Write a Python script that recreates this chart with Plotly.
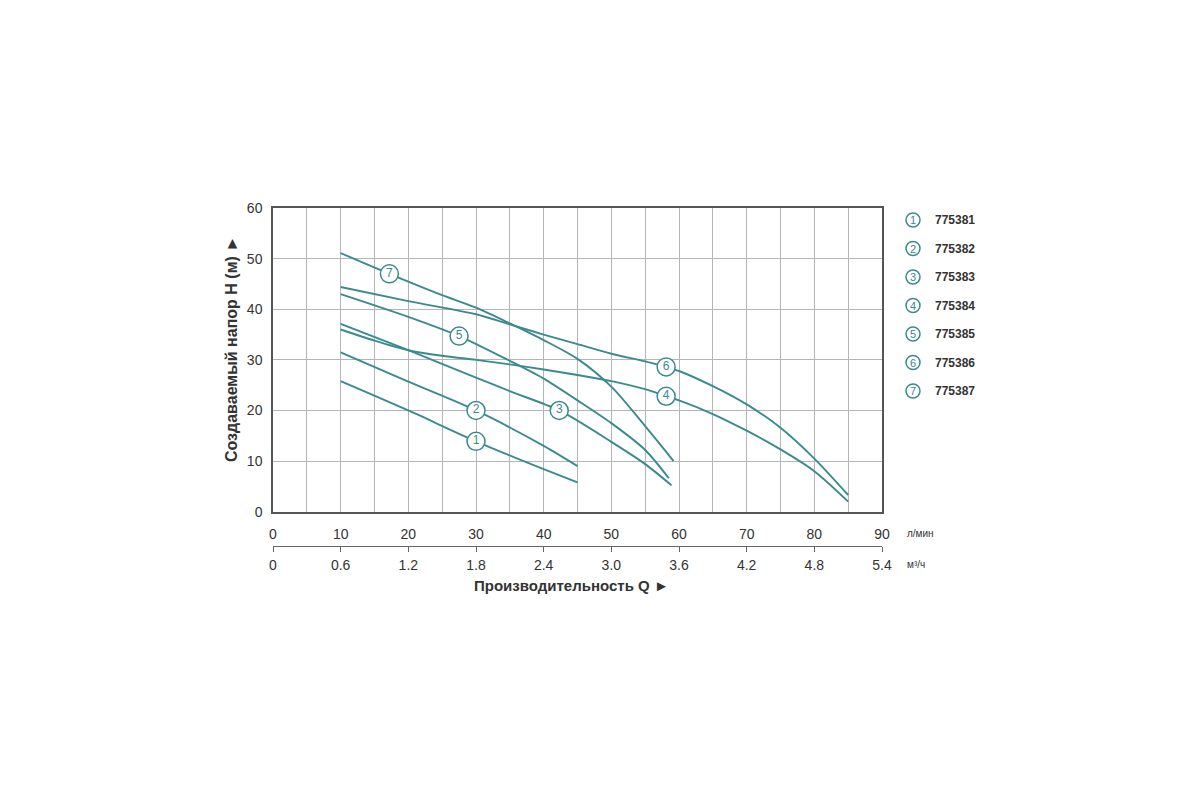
import plotly.graph_objs as go

# Модели насосов
models = ["775381", "775382", "775383", "775384", "775385", "775386", "775387"]

# Напорные характеристики: Q (л/мин) -> H (м)
q_1 = [10, 20, 30, 40, 45]
h_1 = [25.8, 20.0, 13.9, 8.4, 5.8]
q_2 = [10, 20, 30, 40, 45]
h_2 = [31.5, 25.7, 20.0, 13.0, 9.0]
q_3 = [10, 20, 30, 35, 42.3, 50, 55, 58.9]
h_3 = [37.1, 31.9, 26.5, 23.8, 20.0, 13.8, 9.4, 5.2]
q_4 = [10, 15, 20, 25, 30, 35, 40, 45, 50, 55, 58.1, 60, 65, 70, 75, 80, 85]
h_4 = [36.0, 33.8, 31.9, 30.8, 30.0, 29.1, 28.1, 27.0, 25.8, 24.2, 22.8, 22.0, 19.3, 16.0, 12.3, 8.0, 2.0]
q_5 = [10, 20, 27.5, 35, 40, 45, 50, 55, 58.5]
h_5 = [43.0, 38.5, 34.7, 29.8, 26.3, 22.0, 17.5, 12.2, 6.6]
q_6 = [10, 20, 30, 35, 40, 45, 50, 55, 58.1, 60, 65, 70, 75, 80, 85]
h_6 = [44.4, 41.6, 39.0, 37.0, 35.0, 33.1, 31.2, 29.7, 28.6, 27.8, 24.8, 21.2, 16.6, 10.5, 3.3]
q_7 = [10, 17.2, 24.6, 30, 35, 40, 45, 50, 55, 59.2]
h_7 = [51.1, 47.0, 43.0, 40.3, 37.2, 33.9, 30.2, 24.7, 16.9, 10.0]

# Где на кривых стоят кружки с номерами
label_q = [30, 30, 42.3, 58.1, 27.5, 58.1, 17.2]
label_h = [13.9, 20.0, 20.0, 22.8, 34.7, 28.6, 47.0]

# Оси
q_lmin_ticks = [0, 10, 20, 30, 40, 50, 60, 70, 80, 90]
q_m3h_ticks = [0, 0.6, 1.2, 1.8, 2.4, 3.0, 3.6, 4.2, 4.8, 5.4]
q_m3h_text = ["0", "0.6", "1.2", "1.8", "2.4", "3.0", "3.6", "4.2", "4.8", "5.4"]
h_ticks = [0, 10, 20, 30, 40, 50, 60]

TEAL = "#3b8a8f"
TEXT = "#333333"
GRID = "#b5b5b5"
FONT = "Liberation Sans, Arial, sans-serif"
NARROW = "Liberation Sans Narrow, Liberation Sans, Arial, sans-serif"

# пиксели экрана -> координаты paper (поле графика 273..882 по x, paper 208..600 по y)
def px(x):
    return (x - 273) / 609.0

def py(y):
    return (600 - y) / 392.0


def text_note(x, y, text, size, family=FONT, color=TEXT, xanchor="center", angle=0):
    return dict(
        xref="paper", yref="paper", x=px(x), y=py(y),
        xanchor=xanchor, yanchor="middle", textangle=angle,
        text=text, showarrow=False,
        font=dict(family=family, size=size, color=color)
    )


def draw_pump_curves():
    curves = [(q_1, h_1), (q_2, h_2), (q_3, h_3), (q_4, h_4),
              (q_5, h_5), (q_6, h_6), (q_7, h_7)]
    data = []
    for (q, h), name in zip(curves, models):
        data.append(go.Scatter(
            x=q, y=h, name=name, mode="lines",
            line=dict(color=TEAL, width=1.9, shape="spline", smoothing=0.8),
            showlegend=False
        ))

    # номера кривых в кружках
    data.append(go.Scatter(
        x=label_q, y=label_h, mode="markers+text",
        text=[str(i + 1) for i in range(len(models))],
        textposition="middle center",
        textfont=dict(family=FONT, size=12, color=TEAL),
        marker=dict(symbol="circle", size=18, color="white",
                    line=dict(color=TEAL, width=1.5)),
        showlegend=False, hoverinfo="skip"
    ))

    # вторая шкала, м³/ч
    data.append(go.Scatter(
        x=q_m3h_ticks, y=[0] * len(q_m3h_ticks), xaxis="x2", mode="markers",
        marker=dict(opacity=0), showlegend=False, hoverinfo="skip"
    ))

    shapes = []
    annotations = []
    # легенда справа
    for i, name in enumerate(models):
        cy = 220 + 28.5 * i
        shapes.append(dict(
            type="circle", xref="paper", yref="paper",
            xsizemode="pixel", ysizemode="pixel",
            xanchor=px(913), yanchor=py(cy),
            x0=-7, x1=7, y0=-7, y1=7,
            line=dict(color=TEAL, width=1.5), fillcolor="white"
        ))
        annotations.append(text_note(913, cy, str(i + 1), 11, color=TEAL))
        annotations.append(text_note(933, cy, "<b>" + name + "</b>", 12, xanchor="left"))

    # подписи осей и единицы
    annotations.append(text_note(231, 349, "<b>Создаваемый напор H (м) ►</b>", 16, angle=-90))
    annotations.append(text_note(571, 585, "<b>Производительность Q ►</b>", 15))
    annotations.append(text_note(905, 533, "л/мин", 10, family=NARROW, xanchor="left"))
    annotations.append(text_note(905, 564, "м³/ч", 10, family=NARROW, xanchor="left"))

    # страница даёт отступ 8 px, поэтому поля на 8 меньше
    layout = go.Layout(
        width=1200, height=800,
        margin=dict(l=265, r=326, t=200, b=208),
        paper_bgcolor="white", plot_bgcolor="white",
        showlegend=False,
        xaxis=dict(
            range=[0, 90], tickvals=q_lmin_ticks, ticks="",
            showgrid=True, gridcolor=GRID, gridwidth=1,
            minor=dict(dtick=5, showgrid=True, gridcolor=GRID, gridwidth=1),
            showline=True, mirror=True, linecolor="#555555", linewidth=1.5,
            zeroline=False, ticklabelstandoff=9,
            tickfont=dict(family=NARROW, size=14, color=TEXT)
        ),
        xaxis2=dict(
            overlaying="x", anchor="free", position=py(545.5), side="bottom",
            range=[0, 5.4], tickvals=q_m3h_ticks, ticktext=q_m3h_text,
            showgrid=False, zeroline=False,
            showline=True, linecolor="#666666", linewidth=1.2,
            ticks="outside", ticklen=5, tickcolor="#666666",
            ticklabelstandoff=2,
            tickfont=dict(family=NARROW, size=14, color=TEXT)
        ),
        yaxis=dict(
            domain=[py(511.7), 1], range=[0, 60], tickvals=h_ticks, ticks="",
            showgrid=True, gridcolor=GRID, gridwidth=1,
            showline=True, mirror=True, linecolor="#555555", linewidth=1.5,
            zeroline=False, ticklabelstandoff=6,
            tickfont=dict(family=FONT, size=14, color=TEXT)
        ),
        shapes=shapes,
        annotations=annotations
    )

    fig = go.Figure(data=data, layout=layout)
    fig.write_html("out.html")


if __name__ == "__main__":
    draw_pump_curves()
